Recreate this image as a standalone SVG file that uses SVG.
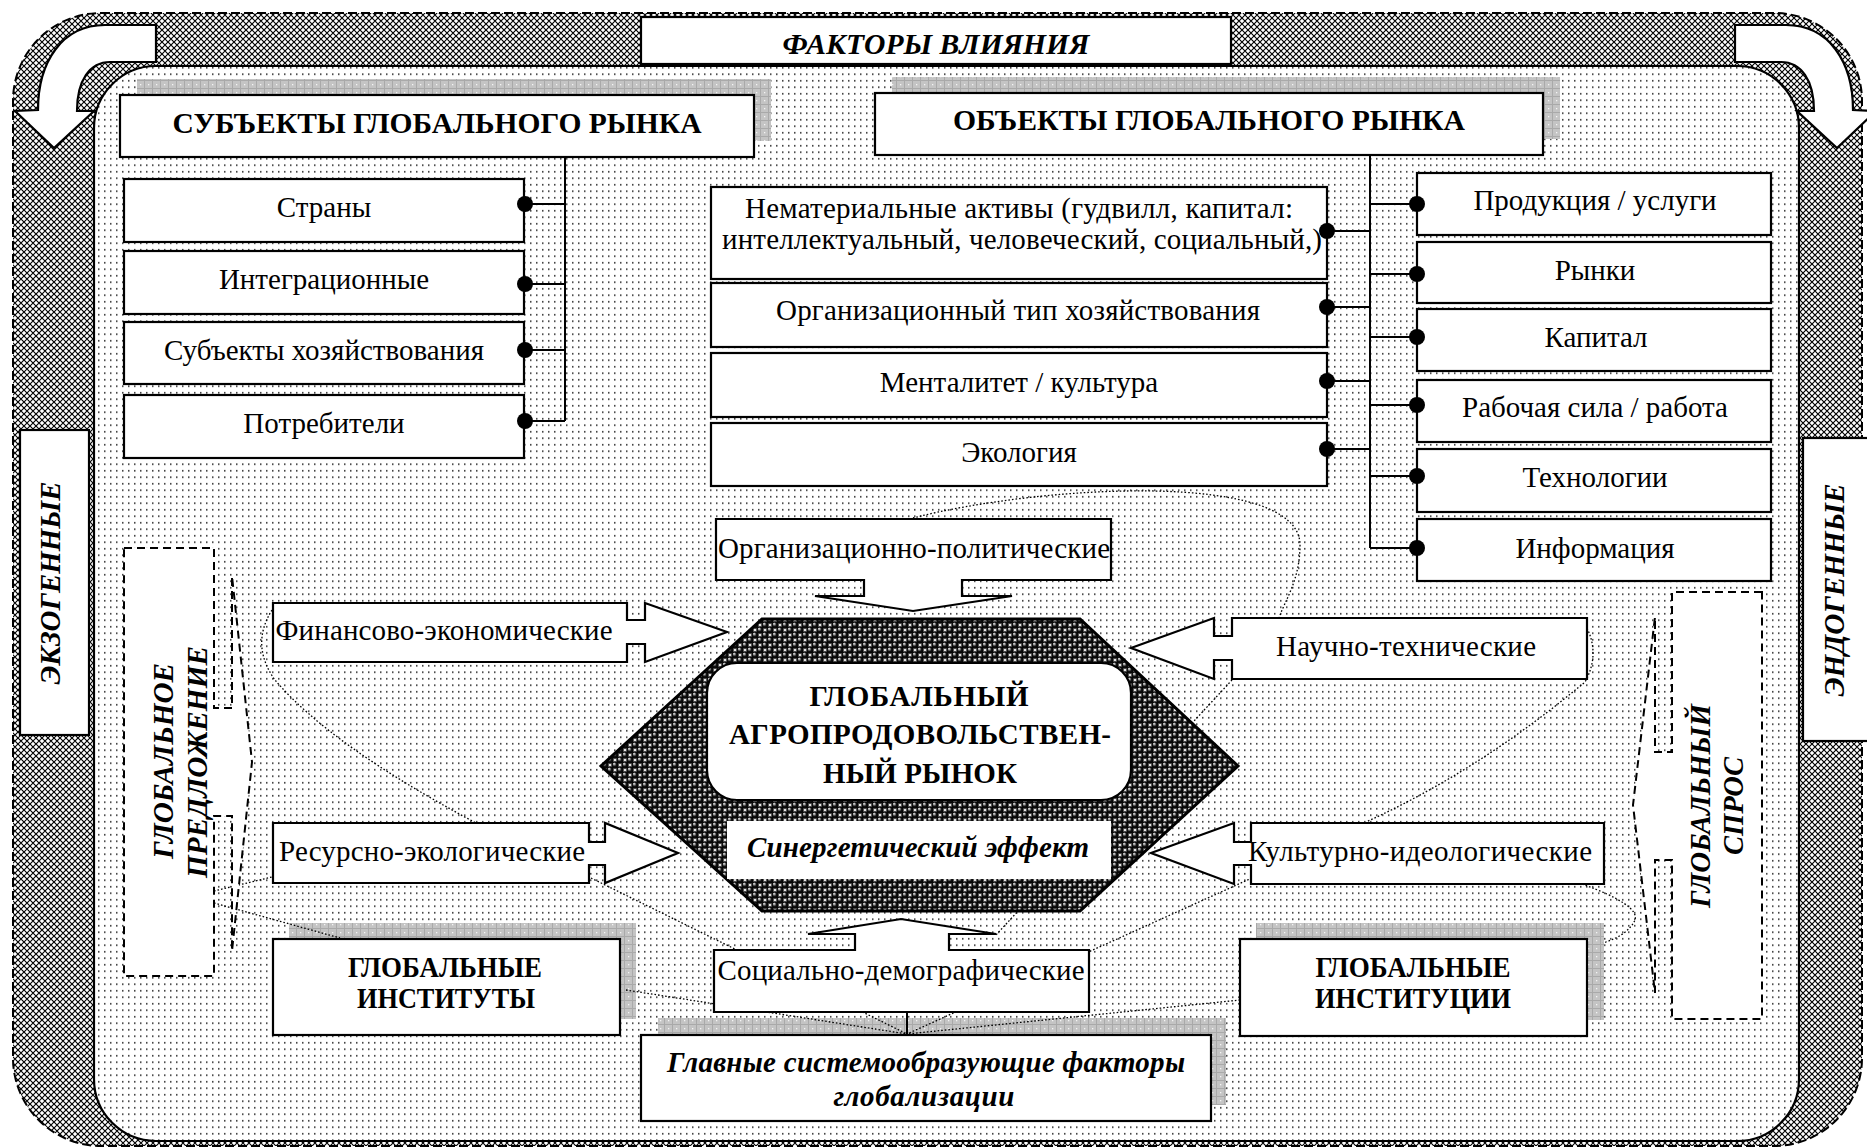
<svg xmlns="http://www.w3.org/2000/svg" width="1867" height="1148" viewBox="0 0 1867 1148">
<defs>
<pattern id="xh" width="6" height="6" patternUnits="userSpaceOnUse"><rect width="6" height="6" fill="#fff"/><path d="M0,0L6,6M6,0L0,6" stroke="#000" stroke-width="1.15"/></pattern>
<pattern id="dt" width="6" height="6.5" patternUnits="userSpaceOnUse"><rect width="6" height="6.5" fill="#fff"/><rect x="2" y="2" width="1.5" height="1.5" fill="#222"/></pattern>
<pattern id="sh" width="8" height="8" patternUnits="userSpaceOnUse"><rect width="8" height="8" fill="#c4c4c4"/><path d="M0,0.5H8M0.5,0V8" stroke="#a9a9a9" stroke-width="1"/><rect x="4" y="4" width="1.3" height="1.3" fill="#f4f4f4"/></pattern>
<radialGradient id="ball" cx="0.5" cy="0.5" r="0.5" fx="0.35" fy="0.3"><stop offset="0" stop-color="#fff"/><stop offset="0.25" stop-color="#999"/><stop offset="0.55" stop-color="#111"/><stop offset="1" stop-color="#000"/></radialGradient>
<pattern id="hx" width="10" height="10" patternUnits="userSpaceOnUse"><rect width="10" height="10" fill="#e6e6e6"/><circle cx="0" cy="0" r="3.7" fill="url(#ball)"/><circle cx="10" cy="0" r="3.7" fill="url(#ball)"/><circle cx="0" cy="10" r="3.7" fill="url(#ball)"/><circle cx="10" cy="10" r="3.7" fill="url(#ball)"/><circle cx="5" cy="5" r="3.7" fill="url(#ball)"/></pattern>
<style>
.box{fill:#fff;stroke:#000;stroke-width:2.2}
.sh{fill:url(#sh)}
.t{font-family:'Liberation Serif','Times New Roman',serif;font-size:29px;fill:#000;text-anchor:middle}
.b{font-weight:bold}
.i{font-style:italic}
.dot{fill:none;stroke:#000;stroke-width:1.3;stroke-dasharray:1.6 2}
.dash{fill:#fff;stroke:#000;stroke-width:2;stroke-dasharray:8 5}
.ln{fill:none;stroke:#000;stroke-width:2}
.bul{fill:#000}
.arr{fill:#fff;stroke:#000;stroke-width:2.2;stroke-linejoin:miter}
</style>
</defs>

<g id="frame">
<rect x="13" y="13" width="1849" height="1133" rx="88" fill="url(#xh)" stroke="#000" stroke-width="2" stroke-dasharray="9 4"/>
<rect x="94" y="66" width="1705" height="1075" rx="62" fill="url(#dt)" stroke="#000" stroke-width="2.2"/>
<path id="arrow-left" class="arr" d="M156,25 L105,25 C62,25 38,62 38,110 L15,111 L54,148 L94,111 L77,111 C77,80 90,62 110,62 L156,62 Z"/>
<path id="arrow-right" class="arr" transform="translate(1891,0) scale(-1,1)" d="M156,25 L105,25 C62,25 38,62 38,110 L15,111 L54,148 L94,111 L77,111 C77,80 90,62 110,62 L156,62 Z"/>
</g>

<g id="shadows">
<rect class="sh" x="137" y="79" width="634" height="62"/>
<rect class="sh" x="892" y="77" width="668" height="62"/>
<rect class="sh" x="289" y="923" width="347" height="96"/>
<rect class="sh" x="1256" y="923" width="348" height="97"/>
<rect class="sh" x="658" y="1018" width="568" height="87"/>
</g>

<g id="connectors">
<path class="dot" d="M272,610 Q250,645 275,680 Q330,745 476,823"/>
<path class="dot" d="M214,891 L272,877"/>
<path class="dot" d="M214,903 L340,938"/>
<path class="dot" d="M591,878 L907,1034"/>
<path class="dot" d="M626,990 L907,1034"/>
<path class="dot" d="M1252,878 L907,1034"/>
<path class="dot" d="M1240,1000 L907,1034"/>
<path class="dot" d="M1232,680 L995,936"/>
<path class="dot" d="M913,518 C1040,485 1300,470 1300,545 C1300,580 1285,600 1279,618"/>
<path class="dot" d="M1587,628 Q1600,655 1585,682 Q1480,770 1366,822"/>
<path class="dot" d="M1582,884 Q1640,905 1635,920 Q1628,935 1603,943"/>
<path class="ln" d="M907,1012 V1035"/>
</g>

<g id="factors-title"><rect class="box" x="641" y="17" width="590" height="47"/><text class="t b i" x="936" y="54" font-size="32" textLength="307" lengthAdjust="spacingAndGlyphs">ФАКТОРЫ ВЛИЯНИЯ</text></g>

<g id="exo"><rect class="box" x="20" y="430" width="69" height="305"/><text class="t b i" transform="translate(60,583) rotate(-90)" font-size="31" textLength="203" lengthAdjust="spacingAndGlyphs">ЭКЗОГЕННЫЕ</text></g>
<g id="endo"><rect class="box" x="1803" y="438" width="66" height="303"/><text class="t b i" transform="translate(1844,590) rotate(-90)" font-size="31" textLength="213" lengthAdjust="spacingAndGlyphs">ЭНДОГЕННЫЕ</text></g>

<g id="subjects-title"><rect class="box" x="120" y="95" width="634" height="62"/><text class="t b" x="437" y="133" font-size="32" textLength="529" lengthAdjust="spacingAndGlyphs">СУБЪЕКТЫ ГЛОБАЛЬНОГО РЫНКА</text></g>
<g id="s-countries"><rect class="box" x="124" y="179" width="400" height="63"/><text class="t" x="324" y="217">Страны</text></g>
<g id="s-integration"><rect class="box" x="124" y="251" width="400" height="63"/><text class="t" x="324" y="289">Интеграционные</text></g>
<g id="s-business"><rect class="box" x="124" y="322" width="400" height="62"/><text class="t" x="324" y="360">Субъекты хозяйствования</text></g>
<g id="s-consumers"><rect class="box" x="124" y="395" width="400" height="63"/><text class="t" x="324" y="433">Потребители</text></g>

<g id="objects-title"><rect class="box" x="875" y="93" width="668" height="62"/><text class="t b" x="1209" y="130" font-size="32" textLength="512" lengthAdjust="spacingAndGlyphs">ОБЪЕКТЫ ГЛОБАЛЬНОГО РЫНКА</text></g>
<g id="o-intangible"><rect class="box" x="711" y="187" width="616" height="92"/><text class="t" x="1019" y="218" textLength="548">Нематериальные активы (гудвилл, капитал:</text><text class="t" x="1022" y="249" textLength="600">интеллектуальный, человеческий, социальный,)</text></g>
<g id="o-orgtype"><rect class="box" x="711" y="283" width="616" height="64"/><text class="t" x="1018" y="320" textLength="484">Организационный тип хозяйствования</text></g>
<g id="o-mentality"><rect class="box" x="711" y="353" width="616" height="64"/><text class="t" x="1019" y="392">Менталитет / культура</text></g>
<g id="o-ecology"><rect class="box" x="711" y="423" width="616" height="63"/><text class="t" x="1019" y="462">Экология</text></g>

<g id="o-products"><rect class="box" x="1417" y="173" width="354" height="62"/><text class="t" x="1595" y="210">Продукция / услуги</text></g>
<g id="o-markets"><rect class="box" x="1417" y="242" width="354" height="61"/><text class="t" x="1595" y="280">Рынки</text></g>
<g id="o-capital"><rect class="box" x="1417" y="309" width="354" height="62"/><text class="t" x="1596" y="347">Капитал</text></g>
<g id="o-labour"><rect class="box" x="1417" y="380" width="354" height="62"/><text class="t" x="1595" y="417">Рабочая сила / работа</text></g>
<g id="o-tech"><rect class="box" x="1417" y="449" width="354" height="63"/><text class="t" x="1595" y="487">Технологии</text></g>
<g id="o-info"><rect class="box" x="1417" y="519" width="354" height="62"/><text class="t" x="1595" y="558">Информация</text></g>

<g id="supply"><path class="dash" d="M124,548 H214 V708 H232 V576 L252,762 L232,951 V816 H214 V976 H124 Z"/><text class="t b i" transform="translate(173,761) rotate(-90)" font-size="31" textLength="196" lengthAdjust="spacingAndGlyphs">ГЛОБАЛЬНОЕ</text><text class="t b i" transform="translate(207,762) rotate(-90)" font-size="31" textLength="232" lengthAdjust="spacingAndGlyphs">ПРЕДЛОЖЕНИЕ</text></g>
<g id="demand"><path class="dash" d="M1762,592 H1672 V752 H1655 V617 L1633,805 L1655,993 V860 H1672 V1019 H1762 Z"/><text class="t b i" transform="translate(1710,806) rotate(-90)" font-size="31" textLength="204" lengthAdjust="spacingAndGlyphs">ГЛОБАЛЬНЫЙ</text><text class="t b i" transform="translate(1743,806) rotate(-90)" font-size="31" textLength="98" lengthAdjust="spacingAndGlyphs">СПРОС</text></g>

<g id="f-finance"><path class="arr" d="M273,603 H627 V620 H645 V603 L727,632 L645,662 V644 H627 V662 H273 Z"/><text class="t" x="444" y="640" textLength="337">Финансово-экономические</text></g>
<g id="f-resource"><path class="arr" d="M273,823 H589 V842 H605 V823 L678,853 L605,883 V865 H589 V883 H273 Z"/><text class="t" x="432" y="861" textLength="306">Ресурсно-экологические</text></g>
<g id="f-science"><path class="arr" d="M1587,618 H1232 V636 H1214 V618 L1131,648 L1214,679 V660 H1232 V679 H1587 Z"/><text class="t" x="1406" y="656" textLength="260">Научно-технические</text></g>
<g id="f-culture"><path class="arr" d="M1604,823 H1251 V842 H1234 V823 L1151,853 L1234,884 V865 H1251 V884 H1604 Z"/><text class="t" x="1420" y="861" textLength="344">Культурно-идеологические</text></g>
<g id="f-political"><path class="arr" d="M716,519 H1111 V580 H962 V596 H1012 L913,611 L815,596 H864 V580 H716 Z"/><text class="t" x="914" y="558" textLength="392">Организационно-политические</text></g>
<g id="f-social"><path class="arr" d="M714,1012 H1089 V950 H949 V934 H996 L901,919 L808,934 H855 V950 H714 Z"/><text class="t" x="901" y="980" textLength="367">Социально-демографические</text></g>

<g id="market">
<path d="M762,619 H1080 L1238,766 L1080,911 H762 L601,766 Z" fill="url(#hx)" stroke="#000" stroke-width="3"/>
<rect class="box" x="707" y="663" width="424" height="137" rx="30" stroke-width="2.5"/>
<text class="t b" x="919" y="706" textLength="219">ГЛОБАЛЬНЫЙ</text>
<text class="t b" x="920" y="744" textLength="382">АГРОПРОДОВОЛЬСТВЕН-</text>
<text class="t b" x="920" y="783" textLength="194">НЫЙ РЫНОК</text>
</g>
<g id="synergy"><rect x="727" y="821" width="384" height="58" fill="#fff"/><text class="t b i" x="918" y="857" textLength="342">Синергетический эффект</text></g>

<g id="institutes"><rect class="box" x="273" y="939" width="347" height="96"/><text class="t b" x="445" y="977" textLength="194" lengthAdjust="spacingAndGlyphs">ГЛОБАЛЬНЫЕ</text><text class="t b" x="446" y="1008" textLength="178" lengthAdjust="spacingAndGlyphs">ИНСТИТУТЫ</text></g>
<g id="institutions"><rect class="box" x="1240" y="939" width="347" height="97"/><text class="t b" x="1413" y="977" textLength="195" lengthAdjust="spacingAndGlyphs">ГЛОБАЛЬНЫЕ</text><text class="t b" x="1413" y="1008" textLength="196" lengthAdjust="spacingAndGlyphs">ИНСТИТУЦИИ</text></g>
<g id="main-factors"><rect class="box" x="641" y="1035" width="570" height="86"/><text class="t b i" x="926" y="1072" textLength="518">Главные системообразующие факторы</text><text class="t b i" x="924" y="1106" textLength="181">глобализации</text></g>

<g id="tree-connectors">
<path class="ln" d="M565,157 V421 M526,204 H565 M526,284 H565 M526,350 H565 M526,421 H565"/>
<path class="ln" d="M1370,155 V548 M1328,231 H1370 M1328,307 H1370 M1328,381 H1370 M1328,449 H1370 M1370,204 H1417 M1370,274 H1417 M1370,337 H1417 M1370,405 H1417 M1370,476 H1417 M1370,548 H1417"/>
<circle class="bul" cx="525" cy="204" r="8"/><circle class="bul" cx="525" cy="284" r="8"/><circle class="bul" cx="525" cy="350" r="8"/><circle class="bul" cx="525" cy="421" r="8"/>
<circle class="bul" cx="1327" cy="231" r="8"/><circle class="bul" cx="1327" cy="307" r="8"/><circle class="bul" cx="1327" cy="381" r="8"/><circle class="bul" cx="1327" cy="449" r="8"/>
<circle class="bul" cx="1417" cy="204" r="8"/><circle class="bul" cx="1417" cy="274" r="8"/><circle class="bul" cx="1417" cy="337" r="8"/><circle class="bul" cx="1417" cy="405" r="8"/><circle class="bul" cx="1417" cy="476" r="8"/><circle class="bul" cx="1417" cy="548" r="8"/>
</g>
</svg>
